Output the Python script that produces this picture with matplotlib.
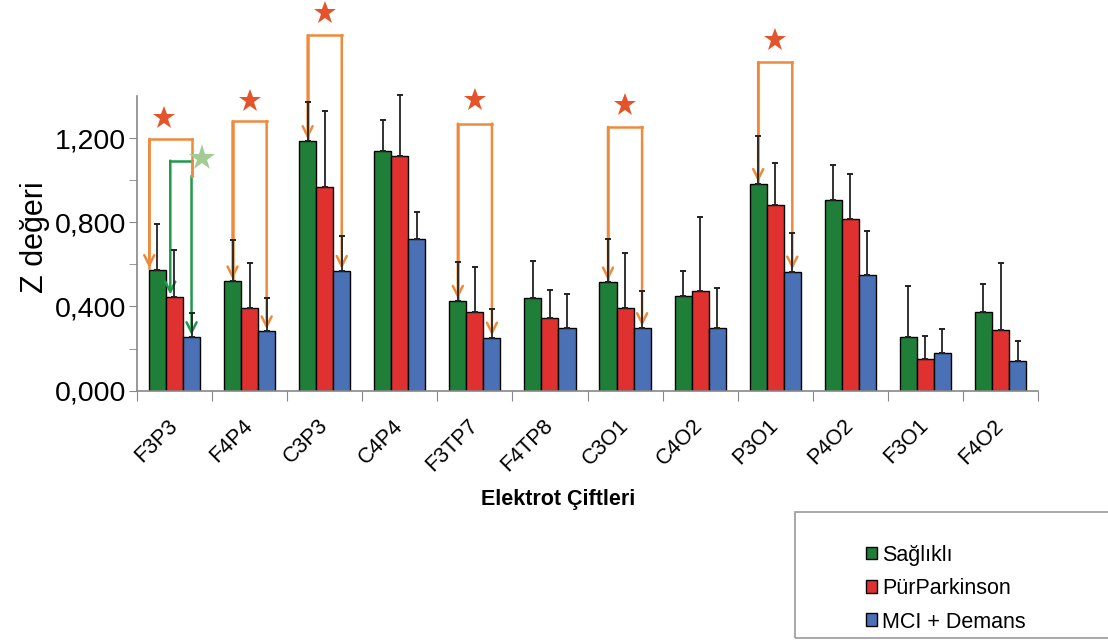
import matplotlib.pyplot as plt
import numpy as np
from matplotlib.patches import Rectangle

plt.rcParams['font.family'] = ['Liberation Sans', 'DejaVu Sans']

pairs = ["F3P3", "F4P4", "C3P3", "C4P4", "F3TP7", "F4TP8",
         "C3O1", "C4O2", "P3O1", "P4O2", "F3O1", "F4O2"]
groups = ["Sağlıklı", "PürParkinson", "MCI + Demans"]

saglikli = [0.573, 0.519, 1.186, 1.137, 0.427, 0.441, 0.514, 0.450, 0.982, 0.906, 0.254, 0.376]
parkinson = [0.447, 0.392, 0.969, 1.117, 0.373, 0.346, 0.393, 0.473, 0.883, 0.817, 0.152, 0.287]
demans = [0.254, 0.282, 0.569, 0.720, 0.252, 0.298, 0.297, 0.297, 0.566, 0.549, 0.181, 0.141]

# ust hata cubugu uclari
saglikli_top = [0.793, 0.717, 1.372, 1.286, 0.609, 0.614, 0.720, 0.569, 1.210, 1.072, 0.495, 0.506]
parkinson_top = [0.669, 0.607, 1.329, 1.407, 0.587, 0.479, 0.652, 0.825, 1.082, 1.029, 0.260, 0.607]
demans_top = [0.368, 0.441, 0.734, 0.849, 0.387, 0.459, 0.473, 0.490, 0.750, 0.758, 0.292, 0.236]

# anlamli farklar: (grup, kose yuksekligi, yildiz yuksekligi)
sig_groups = [0, 1, 2, 4, 6, 8]
sig_heights = [1.196, 1.280, 1.689, 1.269, 1.253, 1.561]
star_heights = [1.297, 1.375, 1.795, 1.383, 1.359, 1.668]

colors = ["#1F7F38", "#E03131", "#4A70B5"]
orange = "#EE8A3C"
star_c = "#E5532A"

fig = plt.figure(figsize=(11.08, 6.43), dpi=100)
ax = fig.add_axes([0.1236, 0.3924, 0.8133, 0.4583])

x = np.arange(len(pairs))
w = 0.227
vals = [saglikli, parkinson, demans]
tops = [saglikli_top, parkinson_top, demans_top]
for k in range(3):
    v = np.array(vals[k])
    err = np.array(tops[k]) - v
    ax.bar(x + (k - 1) * w, v, w, color=colors[k], edgecolor="black", linewidth=1.0,
           label=groups[k], zorder=2)
    ax.errorbar(x + (k - 1) * w, v, yerr=[np.zeros_like(err), err], fmt="none",
                ecolor="#222222", elinewidth=1.3, capsize=2.5, capthick=1.4,
                zorder=6, clip_on=False)

ax.set_xlim(-0.5, len(pairs) - 0.5)
ax.set_ylim(0, 1.4)
ax.set_yticks([0, 0.4, 0.8, 1.2])
ax.set_yticks([0.2, 0.6, 1.0], minor=True)
ax.set_yticklabels(["0,000", "0,400", "0,800", "1,200"], fontsize=20.5)
ax.set_xticks(np.arange(len(pairs) + 1) - 0.5)
ax.set_xticklabels([])
ax.set_xticks(x, minor=True)
ax.set_xticklabels(pairs, minor=True, rotation=45, ha="right", va="center",
                   rotation_mode="anchor", fontsize=15.5)
ax.tick_params(axis="x", which="minor", length=0, pad=23)
ax.tick_params(axis="x", which="major", length=7, color="#888888")
ax.tick_params(axis="y", which="both", length=6, color="#888888", pad=2)
for s in ["top", "right"]:
    ax.spines[s].set_visible(False)
for s in ["left", "bottom"]:
    ax.spines[s].set_color("#888888")
    ax.spines[s].set_linewidth(1.2)

ax.set_ylabel("Z değeri", fontsize=22)
ax.yaxis.set_label_coords(-0.097, 0.52)
ax.set_xlabel("Elektrot Çiftleri", fontsize=15.5, fontweight="bold")
ax.xaxis.set_label_coords(0.467, -0.335)


def arrow(xp, y0, y1, color):
    ax.annotate("", xy=(xp, y1), xytext=(xp, y0), annotation_clip=False,
                arrowprops=dict(arrowstyle="->", color=color, lw=1.8,
                                shrinkA=0, shrinkB=0, mutation_scale=18))


# turuncu koseli baglantilar
for g, h, sh in zip(sig_groups, sig_heights, star_heights):
    xl = g - w
    xr = g + w
    if g == 0:
        xl = g - 1.48 * w
    ax.plot([xl, xl, xr], [saglikli[g] + 0.01, h, h], color=orange, lw=1.8,
            clip_on=False, zorder=4)
    if g == 0:
        ax.plot([xr, xr], [h, 1.02], color=orange, lw=1.8, clip_on=False, zorder=4)
    else:
        arrow(xr, h, demans[g] + 0.01, orange)
    arrow(xl, h, saglikli[g] + 0.01, orange)
    ax.plot(g + (-0.14 if g == 0 else 0.0), sh, marker="*", markersize=17,
            color=star_c, clip_on=False, zorder=5, markeredgewidth=0)

# yesil baglanti (Parkinson - Demans)
green = "#1E9A4A"
gl, gr, gh = -0.056, w, 1.093
ax.plot([gl, gr], [gh, gh], color=green, lw=1.8, clip_on=False, zorder=4)
arrow(gl, gh, parkinson[0] + 0.01, green)
arrow(gr, 1.02, demans[0] + 0.01, green)
ax.plot([gr, gr], [gh, 1.02], color=orange, lw=1.8, zorder=4)
ax.plot(0.367, 1.107, marker="*", markersize=20, color="#A3CC94", clip_on=False,
        zorder=5, markeredgewidth=0)

# lejant kutusu
fig.patches.append(Rectangle((795 / 1108, 1 - 638 / 643), 0.3, 126 / 643,
                             transform=fig.transFigure, fill=False,
                             edgecolor="#999999", lw=1.2, clip_on=False))
leg = fig.legend(loc="upper left", bbox_to_anchor=(857 / 1108, 1 - 536 / 643),
                 frameon=False, fontsize=15.5, handlelength=0.55, handleheight=0.55,
                 handletextpad=0.2, labelspacing=0.58, borderaxespad=0)

fig.savefig("out.png", dpi=100)
